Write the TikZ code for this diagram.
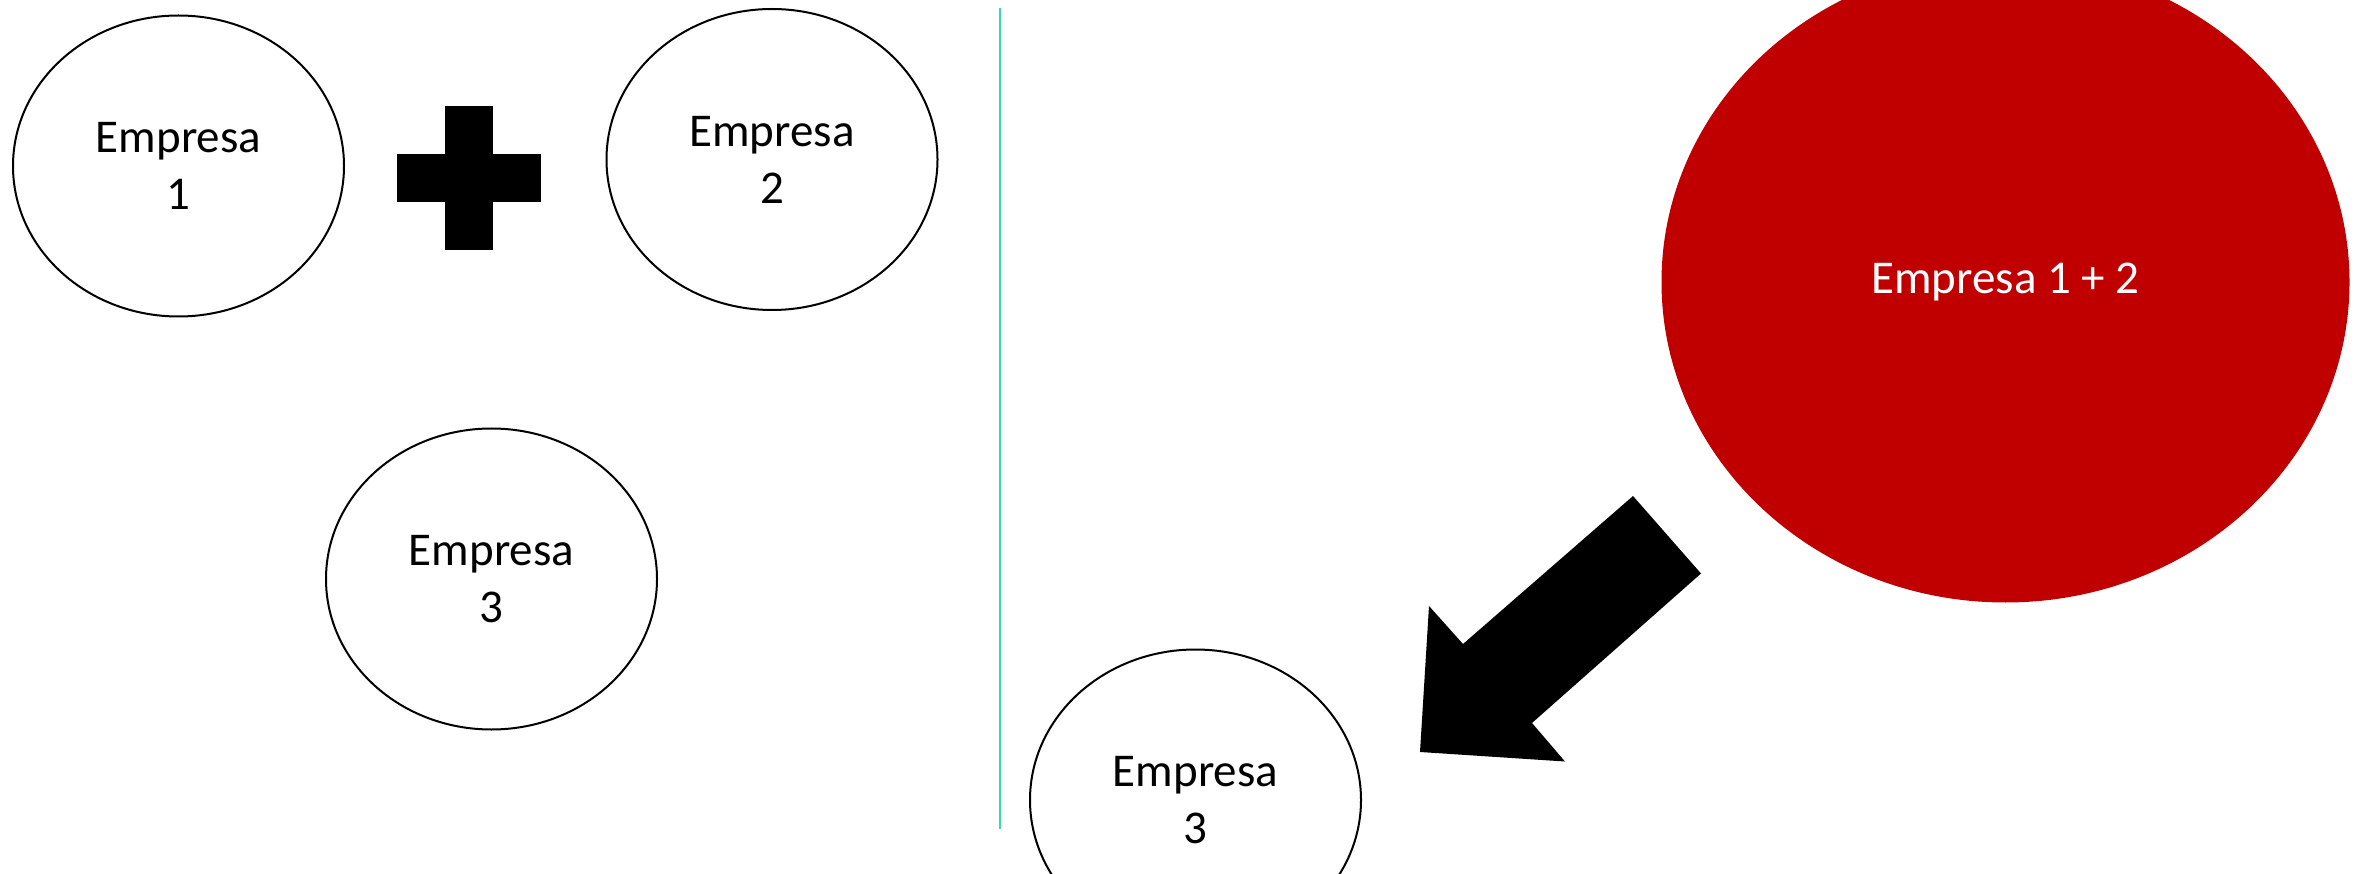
\documentclass[tikz,border=0pt]{standalone}
\usepackage{fontspec}
\setmainfont{Carlito}
\usetikzlibrary{shapes.geometric}
\definecolor{darkred}{RGB}{192,0,0}
\definecolor{mint}{RGB}{60,214,176}
\begin{document}
\begin{tikzpicture}[x=1pt,y=-1pt,
  company/.style={ellipse,draw=black,line width=2pt,fill=white,
    minimum width=331pt,minimum height=301pt,inner sep=0pt,
    align=center,font=\fontsize{47}{57}\selectfont},
  merged/.style={ellipse,fill=darkred,draw=none,text=white,
    minimum width=688pt,minimum height=641pt,inner sep=0pt,
    font=\fontsize{47}{57}\selectfont},
  solidshape/.style={fill=black,draw=none}]
\useasboundingbox (0,0) rectangle (2367,874);
\fill[white] (0,0) rectangle (2367,874);
% left side
\node[company] (e1) at (178.5,166) {Empresa\\1};
\node[company] (e2) at (772,159.5) {Empresa\\2};
\node[company] (e3) at (491.5,579) {Empresa\\3};
\fill[solidshape] (445,106) rectangle (493,250);
\fill[solidshape] (397,154) rectangle (541,202);
% divider
\coordinate (dtop) at (1000,8);
\coordinate (dbot) at (1000,829);
\draw[mint,line width=2pt] (dtop) -- (dbot);
% right side
\node[merged] (m) at (2005.5,282) {Empresa 1 + 2};
\node[company] (e3b) at (1195.5,800) {Empresa\\3};
\fill[solidshape] (1633,496) -- (1701,573.5) -- (1532,723) -- (1565,761.5)
  -- (1420,752) -- (1429,606) -- (1463,644) -- cycle;
\end{tikzpicture}
\end{document}
